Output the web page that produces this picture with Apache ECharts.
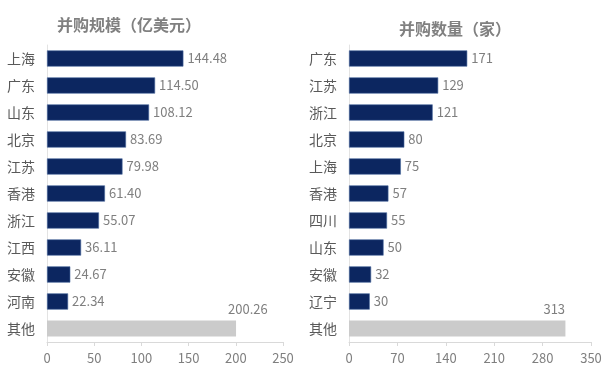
<!DOCTYPE html>
<html>
<head>
<meta charset="utf-8">
<script src="https://cdn.jsdelivr.net/npm/echarts@6/dist/echarts.min.js"></script>
<style>
  html, body { margin: 0; padding: 0; background: #fff; }
  #chart { width: 607px; height: 375px; }
</style>
</head>
<body>
<div id="chart"></div>
<script>
// 并购规模（亿美元）
const scaleCities = ['上海', '广东', '山东', '北京', '江苏', '香港', '浙江', '江西', '安徽', '河南', '其他'];
const scaleValues = [144.48, 114.50, 108.12, 83.69, 79.98, 61.40, 55.07, 36.11, 24.67, 22.34, 200.26];
// 并购数量（家）
const countCities = ['广东', '江苏', '浙江', '北京', '上海', '香港', '四川', '山东', '安徽', '辽宁', '其他'];
const countValues = [171, 129, 121, 80, 75, 57, 55, 50, 32, 30, 313];

const NAVY = '#0c2660';
const GRAY = '#cbcbcb';
const FONT = '"Noto Sans CJK SC", "Noto Sans", sans-serif';

function barData(values, names, otherOffset) {
  return values.map((v, i) => {
    const other = names[i] === '其他';
    return {
      value: v,
      itemStyle: other ? { color: GRAY, borderWidth: 0 } : { color: NAVY, borderColor: '#4a6a9e', borderWidth: 0.6 },
      label: other ? { offset: otherOffset } : undefined,
    };
  });
}

function xAxis(gridIndex, max, interval) {
  return {
    type: 'value', gridIndex, min: 0, max, interval,
    splitLine: { show: false },
    axisLine: { show: true, lineStyle: { color: '#d9d9d9' } },
    axisTick: { show: true, length: 4, lineStyle: { color: '#d9d9d9' } },
    axisLabel: { color: '#7f7f7f', fontSize: 13, fontFamily: FONT, margin: 10 },
  };
}

function yAxis(gridIndex, cats) {
  return {
    type: 'category', gridIndex, data: cats, inverse: true,
    axisLine: { show: true, lineStyle: { color: '#e3e3e3' } },
    axisTick: { show: false },
    axisLabel: { color: '#595959', fontSize: 14, fontFamily: FONT, margin: 12 },
  };
}

const chart = echarts.init(document.getElementById('chart'));
chart.setOption({
  animation: false,
  title: [
    { text: '并购规模（亿美元）', left: 124, top: 12, textAlign: 'center',
      textStyle: { color: '#808080', fontSize: 16, fontWeight: 'bold', fontFamily: FONT } },
    { text: '并购数量（家）', left: 450, top: 16, textAlign: 'center',
      textStyle: { color: '#808080', fontSize: 16, fontWeight: 'bold', fontFamily: FONT } },
  ],
  grid: [
    { left: 47, top: 45, width: 236, height: 297 },
    { left: 349, top: 45, width: 242, height: 297 },
  ],
  xAxis: [xAxis(0, 250, 50), xAxis(1, 350, 70)],
  yAxis: [yAxis(0, scaleCities), yAxis(1, countCities)],
  series: [
    {
      type: 'bar', xAxisIndex: 0, yAxisIndex: 0, barCategoryGap: '40%',
      data: barData(scaleValues, scaleCities, [-12, -19]),
      label: { show: true, position: 'right', distance: 4, color: '#7f7f7f', fontSize: 13, fontFamily: FONT,
        formatter: p => p.value.toFixed(2) },
    },
    {
      type: 'bar', xAxisIndex: 1, yAxisIndex: 1, barCategoryGap: '40%',
      data: barData(countValues, countCities, [-26, -19]),
      label: { show: true, position: 'right', distance: 4, color: '#7f7f7f', fontSize: 13, fontFamily: FONT },
    },
  ],
});
</script>
</body>
</html>
